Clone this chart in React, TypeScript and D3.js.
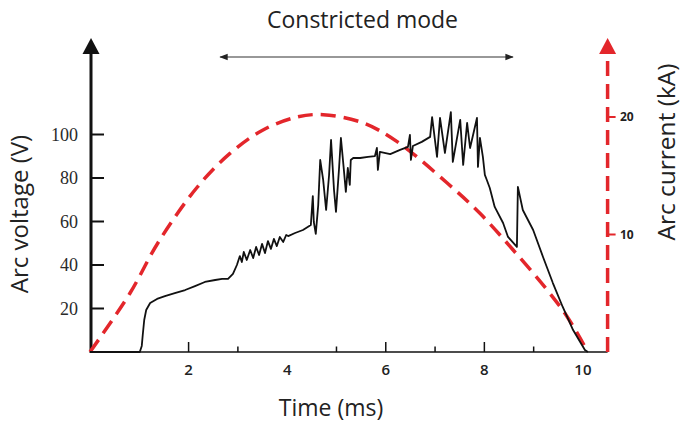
import React from 'react';
import * as d3 from 'd3';

// arc voltage trace, [time ms, volts]
const voltageTrace: [number, number][] = [
  [0, 0], [1.01, 0], [1.05, 2.8], [1.07, 7.8], [1.1, 14.7], [1.14, 19.3], [1.22, 22.5], [1.36, 24.4],
  [1.52, 25.7], [1.72, 27.1], [1.93, 28.5], [2.13, 30.3], [2.33, 32.2], [2.54, 33.1], [2.68, 33.6],
  [2.8, 33.6], [2.9, 35.9], [2.98, 40.0], [3.04, 44.1], [3.08, 41.4], [3.12, 46.0], [3.18, 42.3],
  [3.25, 46.9], [3.31, 43.2], [3.37, 48.3], [3.43, 44.6], [3.49, 49.7], [3.55, 45.5], [3.61, 51.0],
  [3.67, 47.4], [3.73, 52.0], [3.79, 48.7], [3.85, 52.9], [3.92, 50.6], [3.98, 53.8], [4.02, 53.3],
  [4.16, 54.7], [4.32, 56.1], [4.48, 58.4], [4.52, 71.7], [4.54, 59.8], [4.58, 54.3], [4.63, 67.6],
  [4.67, 88.3], [4.73, 79.1], [4.79, 65.3], [4.85, 81.4], [4.89, 97.5], [4.95, 74.5], [4.99, 64.4],
  [5.05, 83.7], [5.09, 98.4], [5.15, 83.7], [5.19, 73.6], [5.23, 84.6], [5.27, 76.8], [5.29, 88.3],
  [5.34, 89.2], [5.48, 89.2], [5.64, 89.7], [5.78, 90.1], [5.82, 93.8], [5.84, 83.7], [5.88, 92.0],
  [6.09, 91.0], [6.29, 92.9], [6.45, 94.3], [6.49, 99.8], [6.51, 88.3], [6.55, 94.7], [6.73, 96.6],
  [6.9, 98.9], [6.94, 108.0], [7.04, 89.7], [7.1, 107.6], [7.2, 91.5], [7.32, 110.3], [7.36, 87.4],
  [7.51, 106.7], [7.57, 86.0], [7.65, 105.3], [7.71, 93.8], [7.85, 107.6], [7.87, 85.1], [7.91, 98.4],
  [7.97, 89.7], [8.01, 81.4], [8.05, 79.1], [8.11, 75.4], [8.21, 66.7], [8.38, 59.3], [8.48, 52.9],
  [8.66, 48.3], [8.68, 75.9], [8.78, 65.3], [8.99, 56.1], [9.19, 43.7], [9.39, 31.7], [9.59, 20.7],
  [9.8, 10.1], [10.04, 0.9], [10.1, 0],
];

// arc current, [time ms, kA]
const currentTrace: [number, number][] = [
  [0, 0], [0.81, 5.0], [1.38, 9.3], [2.17, 14.0], [2.84, 16.9], [3.51, 18.9], [4.2, 20.0],
  [4.73, 20.2], [5.54, 19.5], [6.23, 17.9], [7.24, 14.4], [7.91, 11.8], [8.58, 8.7],
  [9.27, 5.3], [9.68, 3.0], [10.1, 0],
];

const voltageTicks = [20, 40, 60, 80, 100];
const currentTicks = [10, 20];
const timeLabels = [2, 4, 6, 8, 10];
const timeTicksLong = [2, 6, 8];
const timeTicksShort = [3, 5, 7, 9];
const constrictedSpan = [2.64, 8.58];

const RED = '#e3262b';

export default function App() {
  const x = d3.scaleLinear().domain([0, 10.5]).range([90, 607.6]);
  const yV = d3.scaleLinear().domain([0, 100]).range([352, 134.5]);
  const yI = d3.scaleLinear().domain([0, 20]).range([352, 117]);

  const x0 = x(0) + 1;
  const xR = x(10.5);
  const base = yV(0);
  const top = 38;

  const vLine = d3.line<[number, number]>().x(d => x(d[0])).y(d => yV(d[1]));
  const iLine = d3.line<[number, number]>().x(d => x(d[0])).y(d => yI(d[1])).curve(d3.curveCatmullRom);

  const sans = '"Open Sans", sans-serif';

  return (
    <svg width={684} height={424} style={{ position: 'absolute', left: 0, top: 0, background: '#fff' }}>
      <defs>
        <marker id="ah" viewBox="0 0 10 10" refX="9" refY="5" markerWidth="8" markerHeight="7" orient="auto-start-reverse">
          <path d="M0,1 L10,5 L0,9 Z" fill="#222" />
        </marker>
      </defs>

      {/* title + span arrow */}
      <text x={362.5} y={28} textAnchor="middle" fontFamily={sans} fontSize={23} fill="#222">Constricted mode</text>
      <line x1={x(constrictedSpan[0])} x2={x(constrictedSpan[1])} y1={57} y2={57} stroke="#333" strokeWidth={1.2}
        markerStart="url(#ah)" markerEnd="url(#ah)" />

      {/* x axis */}
      <line x1={x0} x2={xR} y1={base} y2={base} stroke="#111" strokeWidth={1.6} />
      {timeTicksLong.map(t => (
        <line key={'l' + t} x1={x(t)} x2={x(t)} y1={base} y2={base - 10} stroke="#111" strokeWidth={1.5} />
      ))}
      {timeTicksShort.map(t => (
        <line key={'s' + t} x1={x(t)} x2={x(t)} y1={base} y2={base - 5.5} stroke="#111" strokeWidth={1.5} />
      ))}
      {timeLabels.map(t => (
        <text key={t} x={x(t)} y={375} textAnchor="middle" fontFamily={sans} fontWeight={600} fontSize={15} fill="#222">{t}</text>
      ))}
      <text x={331} y={416} textAnchor="middle" fontFamily={sans} fontSize={23} fill="#222">Time (ms)</text>

      {/* left voltage axis */}
      <line x1={x0} x2={x0} y1={base + 1} y2={top + 10} stroke="#111" strokeWidth={3} />
      <path d={`M${x0 - 8.5},54 L${x0},${top} L${x0 + 8.5},54 Z`} fill="#111" />
      {voltageTicks.map(v => (
        <g key={v}>
          <line x1={x0} x2={x0 + 13} y1={yV(v)} y2={yV(v)} stroke="#111" strokeWidth={2} />
          <text x={78} y={yV(v)} dy="0.35em" textAnchor="end" fontFamily='"Liberation Serif", serif' fontSize={18} fill="#2a2a2a">{v}</text>
        </g>
      ))}
      <text transform="translate(28,214) rotate(-90)" textAnchor="middle" fontFamily={sans} fontSize={24} fill="#222">Arc voltage (V)</text>

      {/* right current axis */}
      <line x1={xR} x2={xR} y1={base} y2={top + 12} stroke={RED} strokeWidth={3.5} strokeDasharray="15 8" />
      <path d={`M${xR - 8.5},54 L${xR},${top} L${xR + 8.5},54 Z`} fill={RED} />
      {currentTicks.map(c => (
        <g key={c}>
          <line x1={xR} x2={xR + 8} y1={yI(c)} y2={yI(c)} stroke={RED} strokeWidth={2} />
          <text x={620} y={yI(c)} dy="0.35em" fontFamily={sans} fontWeight={700} fontSize={12} fill="#222">{c}</text>
        </g>
      ))}
      <text transform="translate(675,152) rotate(-90)" textAnchor="middle" fontFamily={sans} fontSize={24.5} fill="#222">Arc current (kA)</text>

      {/* traces */}
      <path d={iLine(currentTrace) ?? ''} fill="none" stroke={RED} strokeWidth={3.5} strokeDasharray="15 8" />
      <path d={vLine(voltageTrace) ?? ''} fill="none" stroke="#111" strokeWidth={1.8} strokeLinejoin="round" />
    </svg>
  );
}
